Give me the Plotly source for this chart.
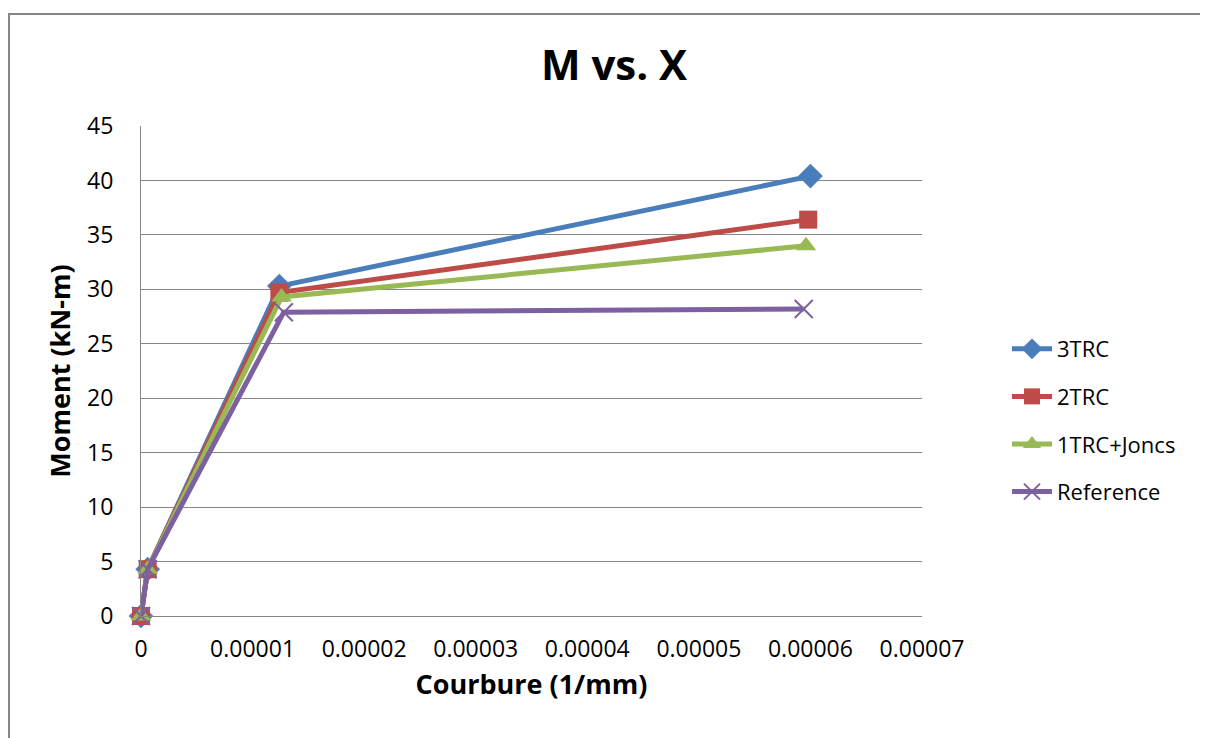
import plotly.graph_objects as go

series_names = ["3TRC", "2TRC", "1TRC+Joncs", "Reference"]
x_3trc = [0, 0.0000006, 0.0000124, 0.0000600]
y_3trc = [0, 4.3, 30.3, 40.4]
x_2trc = [0, 0.0000006, 0.0000124, 0.0000598]
y_2trc = [0, 4.3, 29.7, 36.4]
x_1trc = [0, 0.0000006, 0.0000126, 0.0000596]
y_1trc = [0, 4.3, 29.3, 34.0]
x_ref = [0, 0.0000006, 0.0000128, 0.0000594]
y_ref = [0, 4.3, 27.9, 28.2]

x_ticks = [0, 0.00001, 0.00002, 0.00003, 0.00004, 0.00005, 0.00006, 0.00007]
x_tick_labels = ["0", "0.00001", "0.00002", "0.00003", "0.00004", "0.00005", "0.00006", "0.00007"]

colors = ["#4A7EBB", "#BE4B48", "#98B954", "#7D60A0"]
symbols = ["diamond", "square", "triangle-up", "x-thin"]
sizes = [19, 18, 18, 18]

FONT = "'Open Sans', Lato, sans-serif"

# plot area in figure pixel coords
L, R, T, B = 133, 914, 118, 608
W, H = 1208, 738
PW, PH = R - L, B - T

def px(xf):
    return (xf - L) / PW

def py(yf):
    return (B - yf) / PH

fig = go.Figure()
data = [(x_3trc, y_3trc), (x_2trc, y_2trc), (x_1trc, y_1trc), (x_ref, y_ref)]
for i, (name, (xs, ys)) in enumerate(zip(series_names, data)):
    marker = dict(symbol=symbols[i], size=sizes[i], color=colors[i])
    if symbols[i] == "x-thin":
        marker["line"] = dict(color=colors[i], width=2)
    fig.add_trace(go.Scatter(
        x=xs, y=ys, name=name, mode="lines+markers",
        line=dict(color=colors[i], width=5),
        marker=marker, legendgroup=name, cliponaxis=False,
    ))

fig.update_layout(
    width=W, height=H,
    paper_bgcolor="white", plot_bgcolor="white",
    margin=dict(l=L, r=W - R, t=T, b=H - B),
    font=dict(family=FONT, size=18, color="black"),
    title=dict(text="<b>M vs. X</b>", x=606 / W, xanchor="center",
               y=1 - 57 / H, yanchor="middle", font=dict(size=42, family=FONT)),
    showlegend=True,
    legend=dict(x=px(999), y=py(320), xanchor="left", yanchor="top",
                font=dict(size=22, family=FONT), tracegroupgap=16,
                bgcolor="rgba(0,0,0,0)", itemwidth=40),
)
fig.update_xaxes(
    range=[0, 0.00007], tickvals=x_ticks, ticktext=x_tick_labels,
    showgrid=False, showline=True, linecolor="#868686", linewidth=1,
    ticks="", ticklabelstandoff=12,
    tickfont=dict(size=23), zeroline=False,
    title=dict(text="<b>Courbure (1/mm)</b>", font=dict(size=27), standoff=12),
)
fig.update_yaxes(
    range=[0, 45], dtick=5, showgrid=True, gridcolor="#868686", gridwidth=1,
    showline=True, linecolor="#868686", linewidth=1,
    ticks="", ticklabelstandoff=22,
    tickfont=dict(size=23), zeroline=False,
    title=dict(text="<b>Moment (kN-m)</b>", font=dict(size=27), standoff=8),
)
fig.add_shape(type="rect", xref="paper", yref="paper",
              x0=px(1), x1=px(1215),
              y0=py(745), y1=py(6),
              line=dict(color="#868686", width=2), fillcolor="rgba(0,0,0,0)", layer="below")

fig.write_html("out.html")
